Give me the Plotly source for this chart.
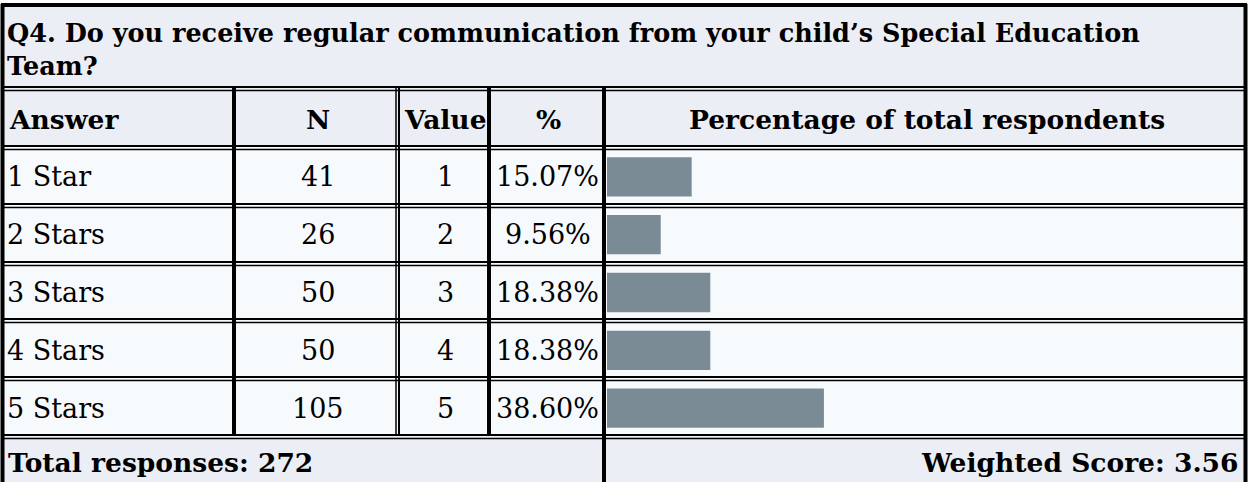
import plotly.graph_objects as go

W, H = 1250, 482

title = "Q4. Do you receive regular communication from your child’s Special Education<br>Team?"
headers = ["Answer", "N", "Value", "%", "Percentage of total respondents"]
answers = ["1 Star", "2 Stars", "3 Stars", "4 Stars", "5 Stars"]
counts = [41, 26, 50, 50, 105]
values = [1, 2, 3, 4, 5]
percents = [15.07, 9.56, 18.38, 18.38, 38.60]
total_responses = 272
weighted_score = 3.56

FONT = "DejaVu Serif"
HEAD_BG = "#eceef6"
ROW_BG = "#f7fafd"
BAR = "#7b8b96"

# column edges (px) and row edges (px)
col_x = [4, 234, 398, 489, 604, 1245]
row_y = [88, 147, 205, 263, 320, 378, 436]


def fx(x):
    return x / W


def fy(y):
    return 1 - y / H


def rect(x0, y0, x1, y1, fill):
    return dict(type="rect", xref="paper", yref="paper", x0=fx(x0), x1=fx(x1),
                y0=fy(y1), y1=fy(y0), fillcolor=fill, line=dict(width=0), layer="below")


def line(x0, y0, x1, y1, w):
    return dict(type="line", xref="paper", yref="paper", x0=fx(x0), x1=fx(x1),
                y0=fy(y0), y1=fy(y1), line=dict(color="black", width=w), layer="above")


fig = go.Figure()

fig.add_trace(go.Bar(
    x=percents, y=answers, orientation="h", marker=dict(color=BAR, line=dict(width=0)),
    width=0.68, hoverinfo="skip",
))

shapes = [
    rect(4, 6, 1245, row_y[0], HEAD_BG),
    rect(4, row_y[0], 1245, row_y[1], HEAD_BG),
    rect(4, row_y[1], 1245, row_y[-1], ROW_BG),
    rect(4, row_y[-1], 1245, H, HEAD_BG),
]
# horizontal double rules
for y in row_y:
    shapes.append(line(4, y - 1, 1245, y - 1, 2))
    shapes.append(line(4, y + 2.5, 1245, y + 2.5, 1.5))
# vertical rules
for x in [col_x[1], col_x[3], col_x[4]]:
    shapes.append(line(x, row_y[0], x, row_y[-1], 4))
shapes.append(line(col_x[2] - 2, row_y[0], col_x[2] - 2, row_y[-1], 1.5))
shapes.append(line(col_x[2] + 1, row_y[0], col_x[2] + 1, row_y[-1], 2))
shapes.append(line(col_x[4], row_y[-1], col_x[4], H, 4))
# outer frame
shapes.append(line(2.5, 4, 2.5, H, 4))
shapes.append(line(1245.5, 4, 1245.5, H, 4))
shapes.append(line(1, 5, 1247, 5, 4))

annotations = []


def text(t, x, y, anchor="center", bold=False, yref="paper", size=27):
    annotations.append(dict(
        text=f"<b>{t}</b>" if bold else t, x=x, y=y, xref="paper", yref=yref,
        xanchor=anchor, yanchor="middle", showarrow=False,
        font=dict(family=FONT, size=size, color="black"),
    ))


annotations.append(dict(
    text=f"<b>{title}</b>", x=fx(5), y=fy(50), xref="paper", yref="paper",
    xanchor="left", yanchor="middle", align="left", showarrow=False,
    font=dict(family=FONT, size=25.5, color="black"),
))

centers = [(col_x[i] + col_x[i + 1]) / 2 for i in range(5)]
head_y = fy((row_y[0] + row_y[1]) / 2 + 2)
text(headers[0], fx(7), head_y, "left", True, size=26.5)
for i in range(1, 5):
    text(headers[i], fx(centers[i] + 2), head_y, "center", True, size=26.5)

for a, n, v, p in zip(answers, counts, values, percents):
    text(a, fx(5), a, "left", yref="y")
    text(str(n), fx(centers[1] + 2), a, yref="y")
    text(str(v), fx(centers[2] + 2), a, yref="y")
    text(f"{p:.2f}%", fx(centers[3] + 1), a, yref="y")

foot_y = fy((row_y[-1] + H) / 2 + 3)
text(f"Total responses: {total_responses}", fx(6), foot_y, "left", True, size=26.5)
text(f"Weighted Score: {weighted_score:.2f}", fx(1241), foot_y, "right", True, size=26.5)

bar_x0 = 607
px_per_pct = 5.62
fig.update_layout(
    width=W, height=H,
    margin=dict(l=0, r=0, t=0, b=0),
    paper_bgcolor="white", plot_bgcolor="rgba(0,0,0,0)",
    showlegend=False,
    shapes=shapes, annotations=annotations,
    xaxis=dict(domain=[fx(bar_x0), fx(1244)], range=[0, (1244 - bar_x0) / px_per_pct],
               visible=False, fixedrange=True),
    yaxis=dict(domain=[fy(row_y[-1] + 1), fy(row_y[1] + 1)], range=[4.5, -0.5],
               type="category", visible=False, fixedrange=True),
)

# drop the browser's default 8px body margin so the table sits flush
fig.write_html("out.html", config=dict(displayModeBar=False),
               post_script="document.body.style.margin='0';")
